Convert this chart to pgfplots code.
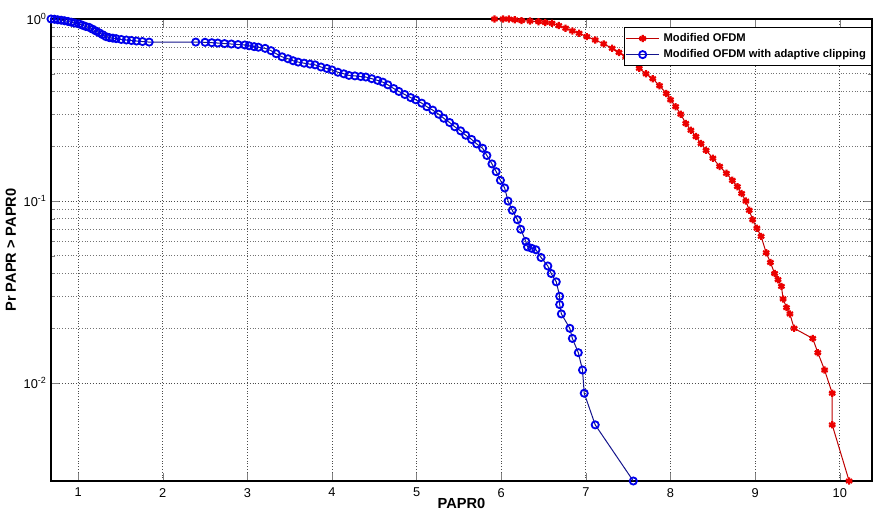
\documentclass[border=0pt]{standalone}
\usepackage{fontspec}
\setmainfont{Liberation Sans}
\usepackage{pgfplots}
\pgfplotsset{compat=1.18}

\definecolor{mred}{RGB}{235,0,0}
\definecolor{mredline}{RGB}{190,0,0}
\definecolor{mblue}{RGB}{0,0,235}
\definecolor{mblueline}{RGB}{20,20,140}

\begin{document}
\begin{tikzpicture}
\useasboundingbox (-25.5pt,-16.5pt) rectangle (411.5pt,240.5pt);
\begin{axis}[
    scale only axis,
    width=410.5pt,
    height=231pt,
    ymode=log,
    xmin=0.68, xmax=10.38,
    ymin=0.0029, ymax=1,
    xtick={1,2,...,10},
    ytick={0.01,0.1,1},
    yticklabels={10\textsuperscript{-2},10\textsuperscript{-1},10\textsuperscript{0}},
    /pgf/number format/assume math mode=true,
    tick label style={font=\fontsize{6.4}{7}\selectfont},
    yticklabel style={xshift=1.5pt},
    xlabel={PAPR0},
    ylabel={Pr PAPR > PAPR0},
    label style={font=\fontsize{7.3}{8}\selectfont\bfseries},
    xlabel style={yshift=6.5pt},
    ylabel style={yshift=-3pt},
    xmajorgrids, ymajorgrids, yminorgrids,
    major grid style={densely dotted, black!70, line width=0.45pt},
    minor grid style={densely dotted, black!55, line width=0.4pt},
    tick align=inside,
    axis line style={line width=0.6pt},
    major tick length=4pt,
    minor tick length=2pt,
    legend style={
        at={(rel axis cs:1,0.983)}, anchor=north east,
        font=\fontsize{5.6}{6}\selectfont\bfseries,
        draw=black, line width=0.5pt, fill=white,
        inner sep=0.8pt, row sep=-1.5pt,
        cells={anchor=west},
    },
    legend image code/.code={
        \draw[mark repeat=2, mark phase=2]
        plot coordinates {(0cm,0cm) (0.29cm,0cm) (0.58cm,0cm)};
    },
]

% Modified OFDM
\addplot[color=mredline, line width=0.5pt, mark=asterisk,
    mark size=1.8pt, mark options={mred, line width=1.1pt}] coordinates {
(5.92,1.0) (6.02,1.0) (6.09,1.0) (6.16,0.99) (6.24,0.98) (6.34,0.975)
(6.44,0.967) (6.52,0.957) (6.60,0.947) (6.68,0.92) (6.76,0.89) (6.84,0.86)
(6.92,0.835) (7.01,0.80) (7.11,0.767) (7.21,0.73) (7.31,0.69) (7.39,0.655)
(7.47,0.62) (7.55,0.578) (7.63,0.536) (7.71,0.50) (7.79,0.47) (7.87,0.43)
(7.95,0.39) (8.00,0.36) (8.06,0.33) (8.12,0.30) (8.18,0.267) (8.24,0.245)
(8.30,0.226) (8.36,0.207) (8.42,0.19) (8.50,0.172) (8.58,0.155) (8.66,0.142)
(8.73,0.13) (8.79,0.12) (8.84,0.11) (8.89,0.10) (8.93,0.089) (8.97,0.079)
(9.02,0.071) (9.07,0.064) (9.13,0.052) (9.18,0.046) (9.23,0.040) (9.27,0.037)
(9.31,0.034) (9.33,0.029) (9.37,0.026) (9.41,0.024) (9.46,0.020) (9.68,0.0176)
(9.74,0.0147) (9.82,0.0118) (9.91,0.0088) (9.91,0.0059) (10.11,0.0029)
};
\addlegendentry{Modified OFDM}

% Modified OFDM with adaptive clipping
\addplot[color=mblueline, line width=0.5pt, mark=o,
    mark size=1.8pt, mark options={mblue, line width=0.9pt}] coordinates {
(0.68,1.0) (0.72,0.997) (0.76,0.99) (0.80,0.985) (0.84,0.978) (0.88,0.97)
(0.92,0.96) (0.96,0.95) (1.01,0.94) (1.05,0.925) (1.09,0.91) (1.13,0.90)
(1.17,0.88) (1.21,0.86) (1.25,0.84) (1.29,0.82) (1.33,0.80) (1.37,0.79)
(1.41,0.785) (1.45,0.78) (1.51,0.772) (1.57,0.767) (1.63,0.762) (1.69,0.757)
(1.76,0.752) (1.84,0.747) (2.39,0.747) (2.50,0.745) (2.58,0.741) (2.65,0.738)
(2.73,0.733) (2.81,0.729) (2.89,0.724) (2.97,0.72) (3.02,0.713) (3.08,0.705)
(3.13,0.70) (3.21,0.69) (3.28,0.67) (3.34,0.645) (3.41,0.62) (3.48,0.605)
(3.54,0.59) (3.60,0.58) (3.67,0.572) (3.74,0.565) (3.80,0.56) (3.87,0.545)
(3.94,0.535) (4.00,0.525) (4.07,0.51) (4.14,0.50) (4.20,0.49) (4.27,0.487)
(4.34,0.483) (4.40,0.48) (4.47,0.47) (4.54,0.46) (4.60,0.45) (4.66,0.435)
(4.73,0.415) (4.79,0.40) (4.86,0.385) (4.93,0.37) (4.99,0.36) (5.06,0.345)
(5.12,0.33) (5.19,0.316) (5.26,0.30) (5.32,0.285) (5.39,0.27) (5.45,0.256)
(5.52,0.243) (5.58,0.23) (5.65,0.218) (5.71,0.206) (5.78,0.195) (5.83,0.178)
(5.89,0.160) (5.94,0.145) (5.99,0.130) (6.04,0.118) (6.08,0.10) (6.13,0.089)
(6.19,0.079) (6.23,0.070) (6.29,0.060) (6.31,0.056) (6.36,0.055) (6.41,0.054)
(6.47,0.049) (6.55,0.044) (6.59,0.040) (6.65,0.036) (6.69,0.030) (6.69,0.027)
(6.71,0.024) (6.81,0.020) (6.84,0.0176) (6.91,0.0147) (6.96,0.0118) (6.98,0.0088)
(7.11,0.0059) (7.56,0.0029)
};
\addlegendentry{Modified OFDM with adaptive clipping}

\end{axis}
\end{tikzpicture}
\end{document}
